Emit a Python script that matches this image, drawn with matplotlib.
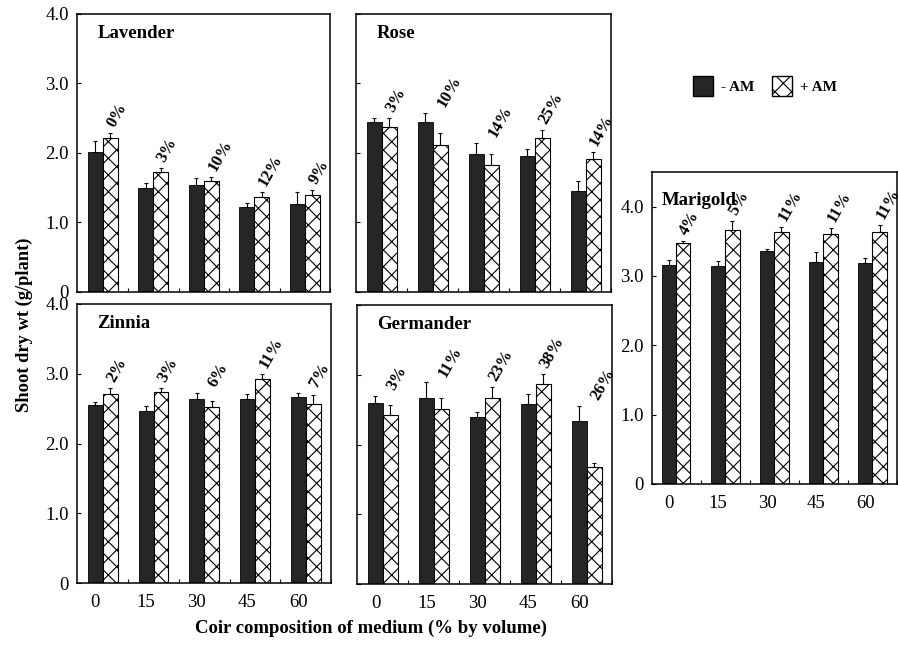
import numpy as np
import matplotlib
matplotlib.use("Agg")
import matplotlib.pyplot as plt
from matplotlib.patches import Patch

plt.rcParams["font.family"] = ["Liberation Serif", "DejaVu Serif"]
plt.rcParams["hatch.linewidth"] = 0.8

coir = ["0", "15", "30", "45", "60"]

lavender_minus = [2.02, 1.50, 1.54, 1.23, 1.27]
lavender_minus_err = [0.15, 0.07, 0.10, 0.05, 0.17]
lavender_plus = [2.22, 1.73, 1.60, 1.37, 1.39]
lavender_plus_err = [0.07, 0.06, 0.06, 0.07, 0.08]
lavender_pct = ["0%", "3%", "10%", "12%", "9%"]

rose_minus = [2.44, 2.45, 1.99, 1.96, 1.46]
rose_minus_err = [0.07, 0.13, 0.15, 0.10, 0.13]
rose_plus = [2.37, 2.12, 1.83, 2.22, 1.92]
rose_plus_err = [0.14, 0.17, 0.16, 0.11, 0.10]
rose_pct = ["3%", "10%", "14%", "25%", "14%"]

zinnia_minus = [2.55, 2.46, 2.64, 2.64, 2.67]
zinnia_minus_err = [0.04, 0.08, 0.09, 0.07, 0.06]
zinnia_plus = [2.71, 2.74, 2.52, 2.93, 2.56]
zinnia_plus_err = [0.09, 0.06, 0.09, 0.07, 0.13]
zinnia_pct = ["2%", "3%", "6%", "11%", "7%"]

germander_minus = [2.59, 2.67, 2.39, 2.58, 2.33]
germander_minus_err = [0.11, 0.22, 0.07, 0.15, 0.22]
germander_plus = [2.42, 2.51, 2.66, 2.87, 1.68]
germander_plus_err = [0.15, 0.16, 0.16, 0.14, 0.06]
germander_pct = ["3%", "11%", "23%", "38%", "26%"]

marigold_minus = [3.16, 3.14, 3.36, 3.20, 3.19]
marigold_minus_err = [0.07, 0.08, 0.03, 0.14, 0.07]
marigold_plus = [3.48, 3.67, 3.64, 3.61, 3.64]
marigold_plus_err = [0.03, 0.12, 0.07, 0.08, 0.10]
marigold_pct = ["4%", "5%", "11%", "11%", "11%"]

W, H = 898, 656
fig = plt.figure(figsize=(W / 100, H / 100), dpi=100)


def add_ax(left, right, top, bottom):
    return fig.add_axes([left / W, 1 - bottom / H, (right - left) / W, (bottom - top) / H])


DARK = "#262626"
bw = 0.294


def panel(ax, name, minus, minus_err, plus, plus_err, pct, ymax, xlim,
          show_y, show_x, title_pos=(0.08, 0.93)):
    x = np.arange(len(minus))
    ax.bar(x, minus, bw, color=DARK, edgecolor="black", linewidth=0.6,
           yerr=[np.zeros(len(minus)), minus_err], capsize=1.5,
           error_kw=dict(elinewidth=0.8, capthick=0.8, ecolor="black"))
    ax.bar(x + bw, plus, bw, color="white", edgecolor="black", linewidth=0.8,
           hatch="xx",
           yerr=[np.zeros(len(plus)), plus_err], capsize=1.5,
           error_kw=dict(elinewidth=0.8, capthick=0.8, ecolor="black"))
    for i in range(len(minus)):
        top = max(minus[i] + minus_err[i], plus[i] + plus_err[i])
        ax.text(x[i] + bw + 0.08, top + 0.07, pct[i], rotation=60,
                rotation_mode="anchor", ha="left", va="baseline",
                fontsize=12, fontweight="bold")
    ax.text(title_pos[0], title_pos[1], name, transform=ax.transAxes,
            fontsize=13.5, fontweight="bold", ha="left", va="center")
    ax.set_xlim(*xlim)
    ax.set_ylim(0, ymax)
    ax.set_yticks([0, 1, 2, 3, 4])
    ax.set_xticks(x)
    ax.set_xticks(x + 0.5 + bw / 2, minor=True)
    ax.tick_params(axis="y", direction="in", length=3, width=0.8,
                   labelsize=13.5, pad=6)
    ax.tick_params(axis="x", which="major", length=0, labelsize=13.5, pad=8)
    ax.tick_params(axis="x", which="minor", direction="in", length=3, width=0.8)
    if show_y:
        ax.set_yticklabels(["0", "1.0", "2.0", "3.0", "4.0"])
    else:
        ax.set_yticklabels([])
    if show_x:
        ax.set_xticklabels(coir)
    else:
        ax.set_xticklabels([])
    for s in ax.spines.values():
        s.set_linewidth(1.1)


ax1 = add_ax(77, 330, 14, 292)
panel(ax1, "Lavender", lavender_minus, lavender_minus_err, lavender_plus,
      lavender_plus_err, lavender_pct, 4.0, (-0.363, 4.6), True, False)
ax2 = add_ax(356, 611, 14, 292)
panel(ax2, "Rose", rose_minus, rose_minus_err, rose_plus,
      rose_plus_err, rose_pct, 4.0, (-0.363, 4.6), False, False)
ax3 = add_ax(77, 331, 304, 583)
panel(ax3, "Zinnia", zinnia_minus, zinnia_minus_err, zinnia_plus,
      zinnia_plus_err, zinnia_pct, 4.0, (-0.363, 4.6), True, True)
ax4 = add_ax(357, 612, 305, 584)
panel(ax4, "Germander", germander_minus, germander_minus_err, germander_plus,
      germander_plus_err, germander_pct, 4.0, (-0.363, 4.6), False, True)
ax5 = add_ax(652, 897, 172, 484)
panel(ax5, "Marigold", marigold_minus, marigold_minus_err, marigold_plus,
      marigold_plus_err, marigold_pct, 4.5, (-0.343, 4.46), True, True,
      title_pos=(0.04, 0.91))

fig.text(24 / W, 1 - 325 / H, "Shoot dry wt (g/plant)", rotation=90,
         ha="center", va="center", fontsize=13.3, fontweight="bold")
fig.text(371 / W, 1 - 628 / H, "Coir composition of medium (% by volume)",
         ha="center", va="center", fontsize=13.5, fontweight="bold")

handles = [Patch(facecolor=DARK, edgecolor="black", label="- AM"),
           Patch(facecolor="white", edgecolor="black", hatch="xx", label="+ AM")]
leg = fig.legend(handles=handles, loc="center", bbox_to_anchor=(765 / W, 1 - 86 / H),
                 ncol=2, frameon=False, handlelength=1.3, handleheight=1.6,
                 handletextpad=0.5, columnspacing=1.2,
                 prop=dict(family="Liberation Serif", weight="bold", size=11))

fig.savefig("out.png", dpi=100, facecolor="white")
